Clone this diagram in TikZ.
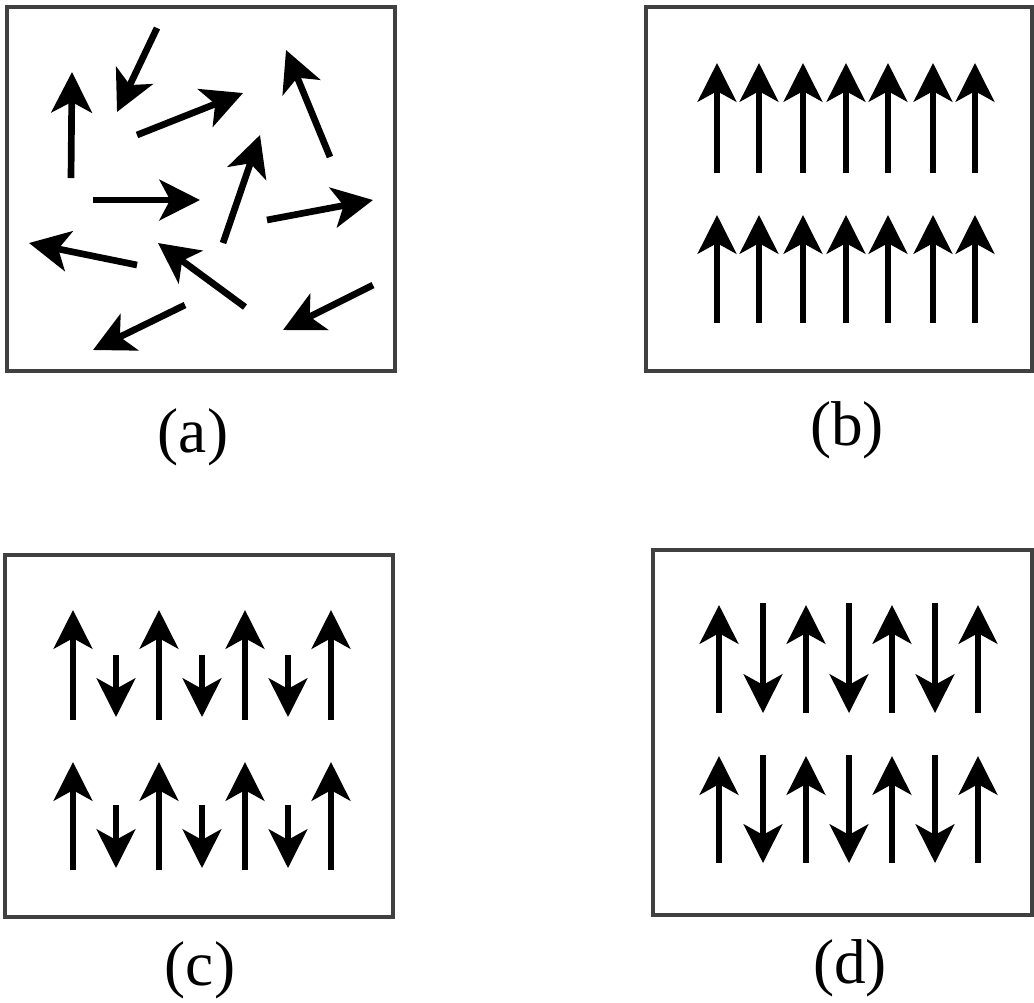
\documentclass[tikz,border=0pt]{standalone}
\usepackage{fontspec}
\setmainfont{Liberation Serif}
\usetikzlibrary{arrows.meta}
\definecolor{boxgray}{HTML}{404040}
\begin{document}
\begin{tikzpicture}[x=0.01cm,y=-0.01cm,
  panel/.style={draw=boxgray,line width=1.2pt},
  spin/.style={line width=1.6pt,-{Stealth[length=11pt,width=11pt,inset=3pt]}},
  rspin/.style={line width=1.9pt,-{Stealth[length=11.5pt,width=11.5pt,inset=3pt]}},
  lab/.style={font=\fontsize{18}{21}\selectfont,inner sep=0pt}]
\useasboundingbox (0,0) rectangle (1034,1002);
% panels
\draw[panel] (7,7) rectangle (395,371);
\draw[panel] (646,7) rectangle (1032,371);
\draw[panel] (5,555) rectangle (393,917);
\draw[panel] (653,550) rectangle (1032,915);
% (a) random
\draw[rspin] (71,178) -- (72,72);
\draw[rspin] (157,28) -- (117,112);
\draw[rspin] (137,135) -- (243,93);
\draw[rspin] (330,157) -- (286,50);
\draw[rspin] (93,200) -- (200,200);
\draw[rspin] (223,243) -- (260,135);
\draw[rspin] (267,220) -- (373,200);
\draw[rspin] (137,265) -- (29,243);
\draw[rspin] (245,307) -- (158,243);
\draw[rspin] (185,305) -- (93,350);
\draw[rspin] (373,285) -- (283,330);
% (b) ferromagnetic
\foreach \x in {717,759,803,846,888,933,975}{
  \draw[spin] (\x,173) -- (\x,63);
  \draw[spin] (\x,323) -- (\x,215);
}
% (c) ferrimagnetic
\foreach \x in {73,159,245,331}{
  \draw[spin] (\x,720) -- (\x,610);
  \draw[spin] (\x,870) -- (\x,762);
}
\foreach \x in {116,202,288}{
  \draw[spin] (\x,655) -- (\x,717);
  \draw[spin] (\x,805) -- (\x,868);
}
% (d) antiferromagnetic
\foreach \x in {719,806,892,978}{
  \draw[spin] (\x,713) -- (\x,605);
  \draw[spin] (\x,863) -- (\x,756);
}
\foreach \x in {763,849,935}{
  \draw[spin] (\x,603) -- (\x,713);
  \draw[spin] (\x,755) -- (\x,863);
}
% labels
\node[lab] (la) at (193,437) {(a)};
\node[lab] (lb) at (847,430) {(b)};
\node[lab] (lc) at (200,970) {(c)};
\node[lab] (ld) at (850,968) {(d)};
\end{tikzpicture}
\end{document}
